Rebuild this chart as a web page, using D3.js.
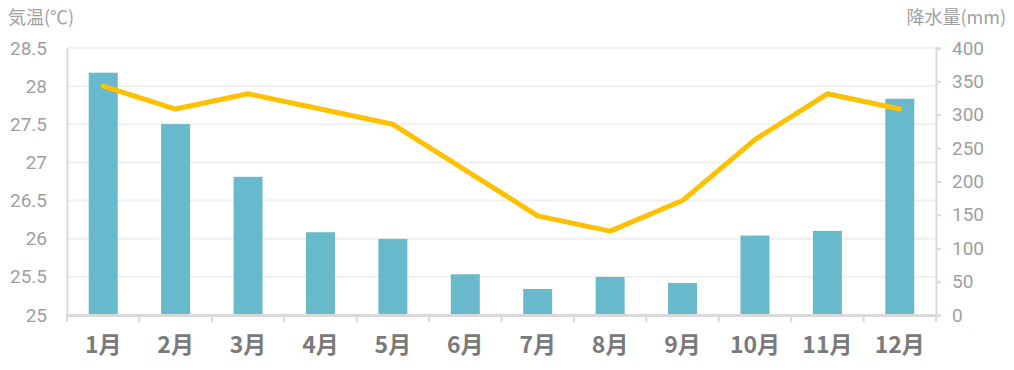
<!DOCTYPE html>
<html>
<head>
<meta charset="utf-8">
<script src="https://cdn.jsdelivr.net/npm/d3@7"></script>
<style>
  body { margin: 0; background: #fff; }
  svg { display: block; }
</style>
</head>
<body>
<script>
const months = ['1月', '2月', '3月', '4月', '5月', '6月', '7月', '8月', '9月', '10月', '11月', '12月'];
const temperature = [28.0, 27.7, 27.9, 27.7, 27.5, 26.9, 26.3, 26.1, 26.5, 27.3, 27.9, 27.7];
const precipitation = [363, 286, 207, 124, 114, 61, 39, 57, 48, 119, 126, 324];
const tempTicks = [25, 25.5, 26, 26.5, 27, 27.5, 28, 28.5];
const rainTicks = [0, 50, 100, 150, 200, 250, 300, 350, 400];

const W = 1014, H = 370;
const LEFT = 67, RIGHT = 936, TOP = 48, BOTTOM = 315;

const COLOR_BAR = '#67b9cb';
const COLOR_LINE = '#ffc000';
const COLOR_GRID = '#efefef';
const COLOR_AXIS = '#d9d9d9';
const COLOR_TICK_TEXT = '#a0a0a0';
const COLOR_CAT_TEXT = '#7a7a7a';
const FONT = 'Roboto, "Noto Sans CJK JP", sans-serif';
const CJK_FONT = '"Noto Sans CJK JP", sans-serif';

const svg = d3.select('body').append('svg')
    .attr('width', W)
    .attr('height', H);

const x = d3.scaleBand().domain(months).range([LEFT, RIGHT]);
const yTemp = d3.scaleLinear().domain([25, 28.5]).range([BOTTOM, TOP]);
const yRain = d3.scaleLinear().domain([0, 400]).range([BOTTOM, TOP]);

// Grid lines
svg.append('g')
    .selectAll('line')
    .data(tempTicks.slice(1))
    .join('line')
    .attr('x1', LEFT)
    .attr('x2', RIGHT)
    .attr('y1', d => yTemp(d))
    .attr('y2', d => yTemp(d))
    .attr('stroke', COLOR_GRID)
    .attr('stroke-width', 2);

// Bars
const barW = x.bandwidth() * 0.4;
svg.append('g')
    .selectAll('rect')
    .data(precipitation)
    .join('rect')
    .attr('x', (d, i) => x(months[i]) + (x.bandwidth() - barW) / 2)
    .attr('y', d => yRain(d))
    .attr('width', barW)
    .attr('height', d => BOTTOM - yRain(d))
    .attr('fill', COLOR_BAR);

// Left axis
const leftAxis = svg.append('g')
    .attr('transform', `translate(${LEFT},0)`)
    .call(d3.axisLeft(yTemp).tickValues(tempTicks).tickSize(0).tickPadding(20).tickFormat(d => d3.format('')(d)));
leftAxis.select('.domain').attr('stroke', COLOR_AXIS).attr('stroke-width', 2);
leftAxis.selectAll('text')
    .attr('fill', COLOR_TICK_TEXT)
    .attr('font-size', 19)
    .attr('font-family', FONT);

// Right axis
const rightAxis = svg.append('g')
    .attr('transform', `translate(${RIGHT},0)`)
    .call(d3.axisRight(yRain).tickValues(rainTicks).tickSize(5).tickPadding(11));
rightAxis.select('.domain').attr('stroke', COLOR_AXIS).attr('stroke-width', 2);
rightAxis.selectAll('line').attr('stroke', COLOR_AXIS).attr('stroke-width', 2);
rightAxis.selectAll('text')
    .attr('fill', COLOR_TICK_TEXT)
    .attr('font-size', 19)
    .attr('font-family', FONT);

// Bottom axis
const bottomAxis = svg.append('g')
    .attr('transform', `translate(0,${BOTTOM})`)
    .call(d3.axisBottom(x).tickSize(0).tickPadding(22));
bottomAxis.select('.domain').attr('stroke', COLOR_AXIS).attr('stroke-width', 3);
bottomAxis.selectAll('text')
    .attr('fill', COLOR_CAT_TEXT)
    .attr('font-size', 23)
    .attr('font-weight', 'bold')
    .attr('font-family', CJK_FONT);

// Category boundary ticks
svg.append('g')
    .selectAll('line')
    .data(months.concat(['end']))
    .join('line')
    .attr('x1', (d, i) => i < months.length ? x(d) : RIGHT)
    .attr('x2', (d, i) => i < months.length ? x(d) : RIGHT)
    .attr('y1', BOTTOM)
    .attr('y2', BOTTOM + 7)
    .attr('stroke', COLOR_AXIS)
    .attr('stroke-width', 2);

// Temperature line
const line = d3.line()
    .x((d, i) => x(months[i]) + x.bandwidth() / 2)
    .y(d => yTemp(d));
svg.append('path')
    .datum(temperature)
    .attr('d', line)
    .attr('fill', 'none')
    .attr('stroke', COLOR_LINE)
    .attr('stroke-width', 5)
    .attr('stroke-linejoin', 'round')
    .attr('stroke-linecap', 'round');

// Axis titles
svg.append('text')
    .attr('x', 8)
    .attr('y', 24)
    .attr('font-size', 18)
    .attr('font-family', CJK_FONT)
    .attr('fill', COLOR_TICK_TEXT)
    .text('気温(℃)');
svg.append('text')
    .attr('x', 1006)
    .attr('y', 24)
    .attr('text-anchor', 'end')
    .attr('font-size', 18)
    .attr('font-family', CJK_FONT)
    .attr('fill', COLOR_TICK_TEXT)
    .text('降水量(mm)');
</script>
</body>
</html>
